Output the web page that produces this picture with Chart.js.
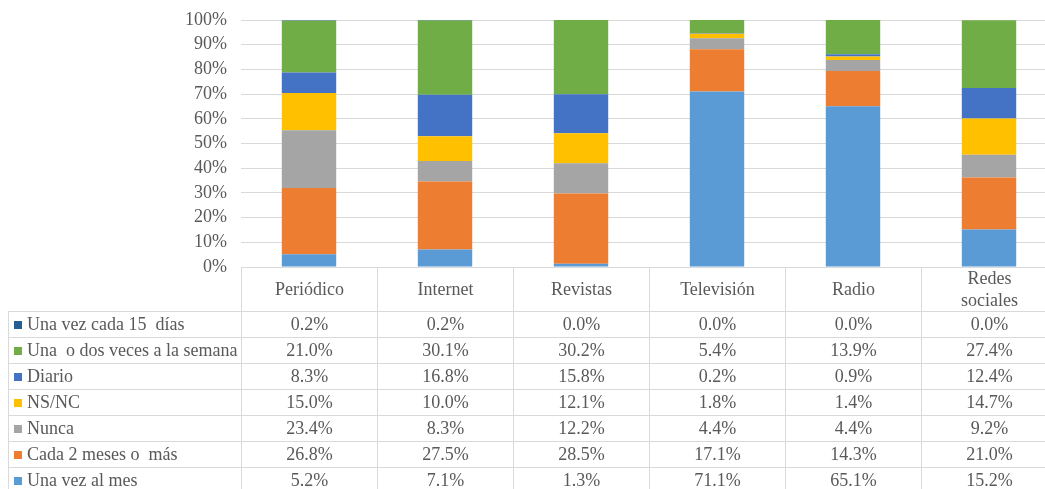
<!DOCTYPE html>
<html>
<head>
<meta charset="utf-8">
<script src="https://cdn.jsdelivr.net/npm/chart.js@4.4.1/dist/chart.umd.min.js"></script>
<style>
  html, body { margin: 0; padding: 0; background: #fff; overflow: hidden; width: 1045px; height: 489px; }
  #wrap { position: absolute; left: 0; top: 0; width: 1060px; height: 280px; }
  #tabla { position: absolute; left: 8px; top: 267px; display: grid; font-family: 'Liberation Serif', 'Times New Roman', serif; font-size: 18px; color: #595959; }
  #tabla div { box-sizing: border-box; white-space: pre; }
  .cab { border-bottom: 1px solid #d9d9d9; display: flex; align-items: center; justify-content: center; text-align: center; line-height: 22px; white-space: normal !important; }
  .cab.cat { border-left: 1px solid #d9d9d9; padding: 0 30px; }
  .cel { border-left: 1px solid #d9d9d9; border-bottom: 1px solid #d9d9d9; text-align: center; line-height: 25px; }
  .nom { border-left: 1px solid #d9d9d9; border-bottom: 1px solid #d9d9d9; line-height: 25px; padding-left: 5px; }
  .clave { display: inline-block; width: 8px; height: 8px; margin-right: 5px; vertical-align: 1px; }
</style>
</head>
<body>
<div id="wrap"><canvas id="grafico" width="1060" height="280"></canvas></div>
<div id="tabla"></div>
<script>
'use strict';
// categorias
var medios = ['Periódico', 'Internet', 'Revistas', 'Televisión', 'Radio', 'Redes sociales'];
// series (de abajo hacia arriba en la pila)
var unaVezMes = [5.2, 7.1, 1.3, 71.1, 65.1, 15.2];
var cada2Meses = [26.8, 27.5, 28.5, 17.1, 14.3, 21.0];
var nunca = [23.4, 8.3, 12.2, 4.4, 4.4, 9.2];
var nsnc = [15.0, 10.0, 12.1, 1.8, 1.4, 14.7];
var diario = [8.3, 16.8, 15.8, 0.2, 0.9, 12.4];
var unaODos = [21.0, 30.1, 30.2, 5.4, 13.9, 27.4];
var cada15 = [0.2, 0.2, 0.0, 0.0, 0.0, 0.0];
var yTicks = [0, 10, 20, 30, 40, 50, 60, 70, 80, 90, 100];

var series = [
  { label: 'Una vez al mes', data: unaVezMes, color: '#5B9BD5' },
  { label: 'Cada 2 meses o  más', data: cada2Meses, color: '#ED7D31' },
  { label: 'Nunca', data: nunca, color: '#A5A5A5' },
  { label: 'NS/NC', data: nsnc, color: '#FFC000' },
  { label: 'Diario', data: diario, color: '#4472C4' },
  { label: 'Una  o dos veces a la semana', data: unaODos, color: '#70AD47' },
  { label: 'Una vez cada 15  días', data: cada15, color: '#255E91' }
];

var ctx = document.getElementById('grafico').getContext('2d');
var chart = new Chart(ctx, {
  type: 'bar',
  data: {
    labels: medios,
    datasets: series.map(s => ({
      label: s.label,
      data: s.data,
      backgroundColor: s.color,
      borderWidth: 0,
      barPercentage: 1,
      categoryPercentage: 0.4
    }))
  },
  options: {
    responsive: false,
    animation: false,
    layout: { padding: { top: 20, bottom: 13, right: 3, left: 0 } },
    plugins: { legend: { display: false }, tooltip: { enabled: false } },
    scales: {
      x: { stacked: true, display: false },
      y: {
        stacked: true,
        min: 0,
        max: 100,
        afterBuildTicks: s => { s.ticks = yTicks.map(v => ({ value: v })); },
        afterFit: s => { s.width = 241; },
        border: { display: false },
        // tick marks invisible: they only push the labels left of the plot
        grid: { color: '#d9d9d9', drawTicks: true, tickLength: 14, tickColor: 'rgba(0,0,0,0)' },
        ticks: {
          padding: 0,
          color: '#595959',
          font: { family: "'Liberation Serif', 'Times New Roman', serif", size: 18 },
          callback: v => v + '%'
        }
      }
    }
  }
});

// tabla de datos alineada con el eje x
function drawTable() {
  var area = chart.chartArea;
  var w = (area.right - area.left) / medios.length;
  var tabla = document.getElementById('tabla');
  tabla.style.top = Math.round(area.bottom) + 'px';
  tabla.style.gridTemplateColumns = (area.left - 8) + 'px repeat(' + medios.length + ', ' + w + 'px)';
  tabla.style.gridTemplateRows = '45px repeat(' + series.length + ', 26px)';
  var html = '<div class="cab"></div>';
  medios.forEach(m => { html += '<div class="cab cat">' + m + '</div>'; });
  series.slice().reverse().forEach(s => {
    html += '<div class="nom"><span class="clave" style="background:' + s.color + '"></span>' + s.label + '</div>';
    s.data.forEach(v => { html += '<div class="cel">' + v.toFixed(1) + '%</div>'; });
  });
  tabla.innerHTML = html;
}
drawTable();
</script>
</body>
</html>
